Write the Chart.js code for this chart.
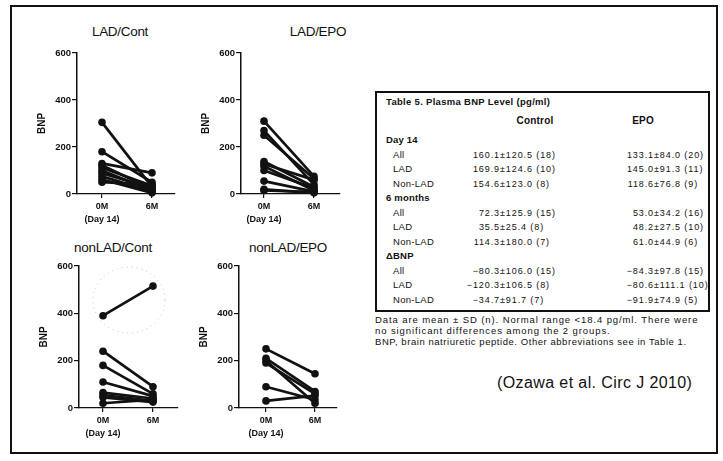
<!DOCTYPE html>
<html>
<head>
<meta charset="utf-8">
<script src="https://cdn.jsdelivr.net/npm/chart.js@4.4.0/dist/chart.umd.min.js"></script>
<style>
  html, body { margin: 0; padding: 0; background: #fff; }
  #page { position: relative; width: 723px; height: 461px; overflow: hidden;
          font-family: "Liberation Sans", Arial, sans-serif; color: #111; }
  .frame { position: absolute; left: 10px; top: 5px; width: 704px; height: 445px; border: 2px solid #111; }
  .panel { position: absolute; }
  .ptitle { position: absolute; font-size: 13.5px; line-height: 16px; transform: translateX(-50%);
            white-space: nowrap; letter-spacing: -0.3px; }
  .tbox { position: absolute; left: 375px; top: 91px; width: 331px; height: 217px; border: 2px solid #111; }
  .t { position: absolute; white-space: nowrap; line-height: 10px; font-size: 9px; letter-spacing: 0.9px; }
  .b { font-weight: bold; }
</style>
</head>
<body>
<div id="page">
  <div class="frame"></div>
  <div class="tbox"></div>
</div>

<script>
// ── Datos (BNP pg/ml) ────────────────────────────────────────────────
const timeLabels = ['0M', '(Day 14)', '6M'];
const yTicks = [0, 200, 400, 600];

const ladContDay14 = [305, 180, 130, 122, 112, 100, 88, 75, 62, 50];
const ladContM6    = [30, 50, 90, 20, 35, 15, 25, 10, 5, 40];

const ladEpoDay14  = [310, 270, 250, 138, 128, 118, 100, 55, 20, 15];
const ladEpoM6     = [75, 40, 65, 30, 60, 15, 25, 10, 5, 8];

const nonLadContDay14 = [390, 240, 180, 110, 65, 55, 45, 20];
const nonLadContM6    = [515, 90, 60, 50, 40, 30, 25, 35];

const nonLadEpoDay14 = [250, 210, 200, 190, 90, 30];
const nonLadEpoM6    = [145, 70, 20, 60, 35, 52];

// Tabla 5
const tableTitle = 'Table 5.  Plasma BNP Level (pg/ml)';
const tableHeads = ['Control', 'EPO'];
const tableGroups = ['Day 14', '6 months', 'ΔBNP'];
const tableRows = ['All', 'LAD', 'Non-LAD'];
const controlCells = [
  '160.1±120.5 (18)', '169.9±124.6 (10)', '154.6±123.0 (8)',
  '72.3±125.9 (15)', '35.5±25.4 (8)', '114.3±180.0 (7)',
  '−80.3±106.0 (15)', '−120.3±106.5 (8)', '−34.7±91.7 (7)'];
const epoCells = [
  '133.1±84.0 (20)', '145.0±91.3 (11)', '118.6±76.8 (9)',
  '53.0±34.2 (16)', '48.2±27.5 (10)', '61.0±44.9 (6)',
  '−84.3±97.8 (15)', '−80.6±111.1 (10)', '−91.9±74.9 (5)'];
const footLines = [
  'Data are mean ± SD (n). Normal range <18.4 pg/ml. There were',
  'no significant differences among the 2 groups.',
  'BNP, brain natriuretic peptide. Other abbreviations see in Table 1.'];
const citation = '(Ozawa et al. Circ J 2010)';

// ── Geometría de los paneles ─────────────────────────────────────────
const panels = [
  { title: 'LAD/Cont',    day14: ladContDay14,    m6: ladContM6,
    axisX: 77,  yTop: 53,  yBottom: 194, x0: 102, x6: 152, right: 175, titleX: 120, titleY: 32 },
  { title: 'LAD/EPO',     day14: ladEpoDay14,     m6: ladEpoM6,
    axisX: 241, yTop: 53,  yBottom: 194, x0: 264, x6: 314, right: 340, titleX: 318, titleY: 32 },
  { title: 'nonLAD/Cont', day14: nonLadContDay14, m6: nonLadContM6,
    axisX: 79,  yTop: 266, yBottom: 408, x0: 103, x6: 153, right: 178, titleX: 113, titleY: 248, ring: true },
  { title: 'nonLAD/EPO',  day14: nonLadEpoDay14,  m6: nonLadEpoM6,
    axisX: 239, yTop: 266, yBottom: 408, x0: 266, x6: 315, right: 337, titleX: 288, titleY: 248 },
];

const FONT = "'Liberation Sans', Arial, sans-serif";
Chart.defaults.font.family = FONT;
Chart.defaults.color = '#111';

const Y_W = 50, X_H = 40, PAD_TOP = 10, PAD_RIGHT = 6;

// Círculo punteado alrededor del valor atípico
const outlierRing = {
  id: 'outlierRing',
  beforeDatasetsDraw(chart, args, opts) {
    if (!opts.show) return;
    const { ctx, scales } = chart;
    const cx = scales.x.getPixelForValue(opts.cx);
    const cy = scales.y.getPixelForValue(opts.cy);
    ctx.save();
    ctx.strokeStyle = '#c4c4c4';
    ctx.lineWidth = 1;
    ctx.setLineDash([1, 4]);
    ctx.beginPath();
    ctx.ellipse(cx, cy, opts.rx, opts.ry, 0, 0, Math.PI * 2);
    ctx.stroke();
    ctx.restore();
  },
};

const page = document.getElementById('page');

panels.forEach(p => {
  const left = p.axisX - Y_W;
  const top = p.yTop - PAD_TOP;
  const width = p.right - left + PAD_RIGHT;
  const height = p.yBottom - top + X_H;
  const unit = p.x6 - p.x0;

  const canvas = document.createElement('canvas');
  canvas.className = 'panel';
  canvas.width = width; canvas.height = height;
  canvas.style.left = left + 'px'; canvas.style.top = top + 'px';
  page.appendChild(canvas);

  const t = document.createElement('div');
  t.className = 'ptitle';
  t.textContent = p.title;
  t.style.left = p.titleX + 'px'; t.style.top = (p.titleY - 8) + 'px';
  page.appendChild(t);

  const datasets = p.day14.map((v, i) => ({
    data: [{ x: 0, y: v }, { x: 1, y: p.m6[i] }],
    showLine: true,
    borderColor: '#111',
    borderWidth: 2.7,
    pointRadius: 3.8,
    pointBackgroundColor: '#111',
    pointBorderWidth: 0,
    clip: false,
  }));

  new Chart(canvas, {
    type: 'scatter',
    data: { datasets },
    plugins: p.ring ? [outlierRing] : [],
    options: {
      responsive: false,
      animation: false,
      events: [],
      layout: { padding: { left: 0, top: PAD_TOP, right: PAD_RIGHT, bottom: 0 } },
      plugins: {
        legend: { display: false },
        tooltip: { enabled: false },
        outlierRing: { show: !!p.ring, cx: 0.52, cy: 456, rx: 36, ry: 33 },
      },
      scales: {
        x: {
          type: 'linear',
          min: (p.axisX - p.x0) / unit,
          max: 1 + (p.right - p.x6) / unit,
          afterBuildTicks: s => { s.ticks = [{ value: 0 }, { value: 1 }]; },
          afterFit: s => { s.height = X_H; s.paddingLeft = 0; s.paddingRight = 0; },
          grid: { drawOnChartArea: false, drawTicks: true, tickLength: 4, color: '#111', lineWidth: 1.2 },
          border: { display: true, color: '#111', width: 1.3 },
          ticks: {
            autoSkip: false, maxRotation: 0, padding: 2,
            font: { size: 9, weight: 'bold', lineHeight: 1.45 },
            callback: v => v === 0 ? [timeLabels[0], timeLabels[1]] : timeLabels[2],
          },
        },
        y: {
          min: 0, max: 600,
          afterBuildTicks: s => { s.ticks = yTicks.map(v => ({ value: v })); },
          afterFit: s => { s.width = Y_W; s.paddingTop = 0; s.paddingBottom = 0; },
          grid: { drawOnChartArea: false, drawTicks: true, tickLength: 5, color: '#111', lineWidth: 1.2 },
          border: { display: true, color: '#111', width: 1.5 },
          ticks: { padding: 1, font: { size: 9.5, weight: 'bold' } },
          title: { display: true, text: 'BNP', font: { size: 10, weight: 'bold' }, padding: { top: 9, bottom: 0 } },
        },
      },
    },
  });
});

// ── Tabla ────────────────────────────────────────────────────────────
function addText(txt, x, y, cls, align, extra) {
  const d = document.createElement('div');
  d.className = 't ' + (cls || '');
  d.textContent = txt;
  d.style.top = (y - 5) + 'px';
  if (align === 'right') { d.style.right = (723 - x) + 'px'; }
  else if (align === 'center') { d.style.left = x + 'px'; d.style.transform = 'translateX(-50%)'; }
  else { d.style.left = x + 'px'; }
  if (extra) Object.assign(d.style, extra);
  page.appendChild(d);
}

addText(tableTitle, 386, 102, 'b', 'left', { fontSize: '9.5px', letterSpacing: '0.3px' });
addText(tableHeads[0], 535, 121, 'b', 'center', { fontSize: '10px', letterSpacing: '0.2px' });
addText(tableHeads[1], 643, 121, 'b', 'center', { fontSize: '10px', letterSpacing: '0.2px' });

const ROW0 = 140, ROW_H = 14.5;
const PM_CONTROL = 500, PM_EPO = 654;
tableGroups.forEach((g, gi) => {
  const gy = ROW0 + gi * 4 * ROW_H;
  addText(g, 386, gy, 'b', 'left', { fontSize: '9.5px', letterSpacing: '0.2px' });
  tableRows.forEach((r, ri) => {
    const y = gy + (ri + 1) * ROW_H;
    const k = gi * 3 + ri;
    addText(r, 393, y, '', 'left', { fontSize: '9.5px', letterSpacing: '0.3px' });
    [[controlCells[k], PM_CONTROL], [epoCells[k], PM_EPO]].forEach(([cell, pm]) => {
      const [mean, rest] = cell.split('±');
      addText(mean, pm, y, '', 'right');
      addText('±' + rest, pm, y, '', 'left');
    });
  });
});

footLines.forEach((l, i) => addText(l, 375, 320 + i * 11, '', 'left',
  { fontSize: '9.5px', letterSpacing: i === 2 ? '0.55px' : '0.9px' }));
addText(citation, 497, 383, '', 'left', { fontSize: '16px', lineHeight: '18px', top: '374px', letterSpacing: '0.4px' });
</script>
</body>
</html>
